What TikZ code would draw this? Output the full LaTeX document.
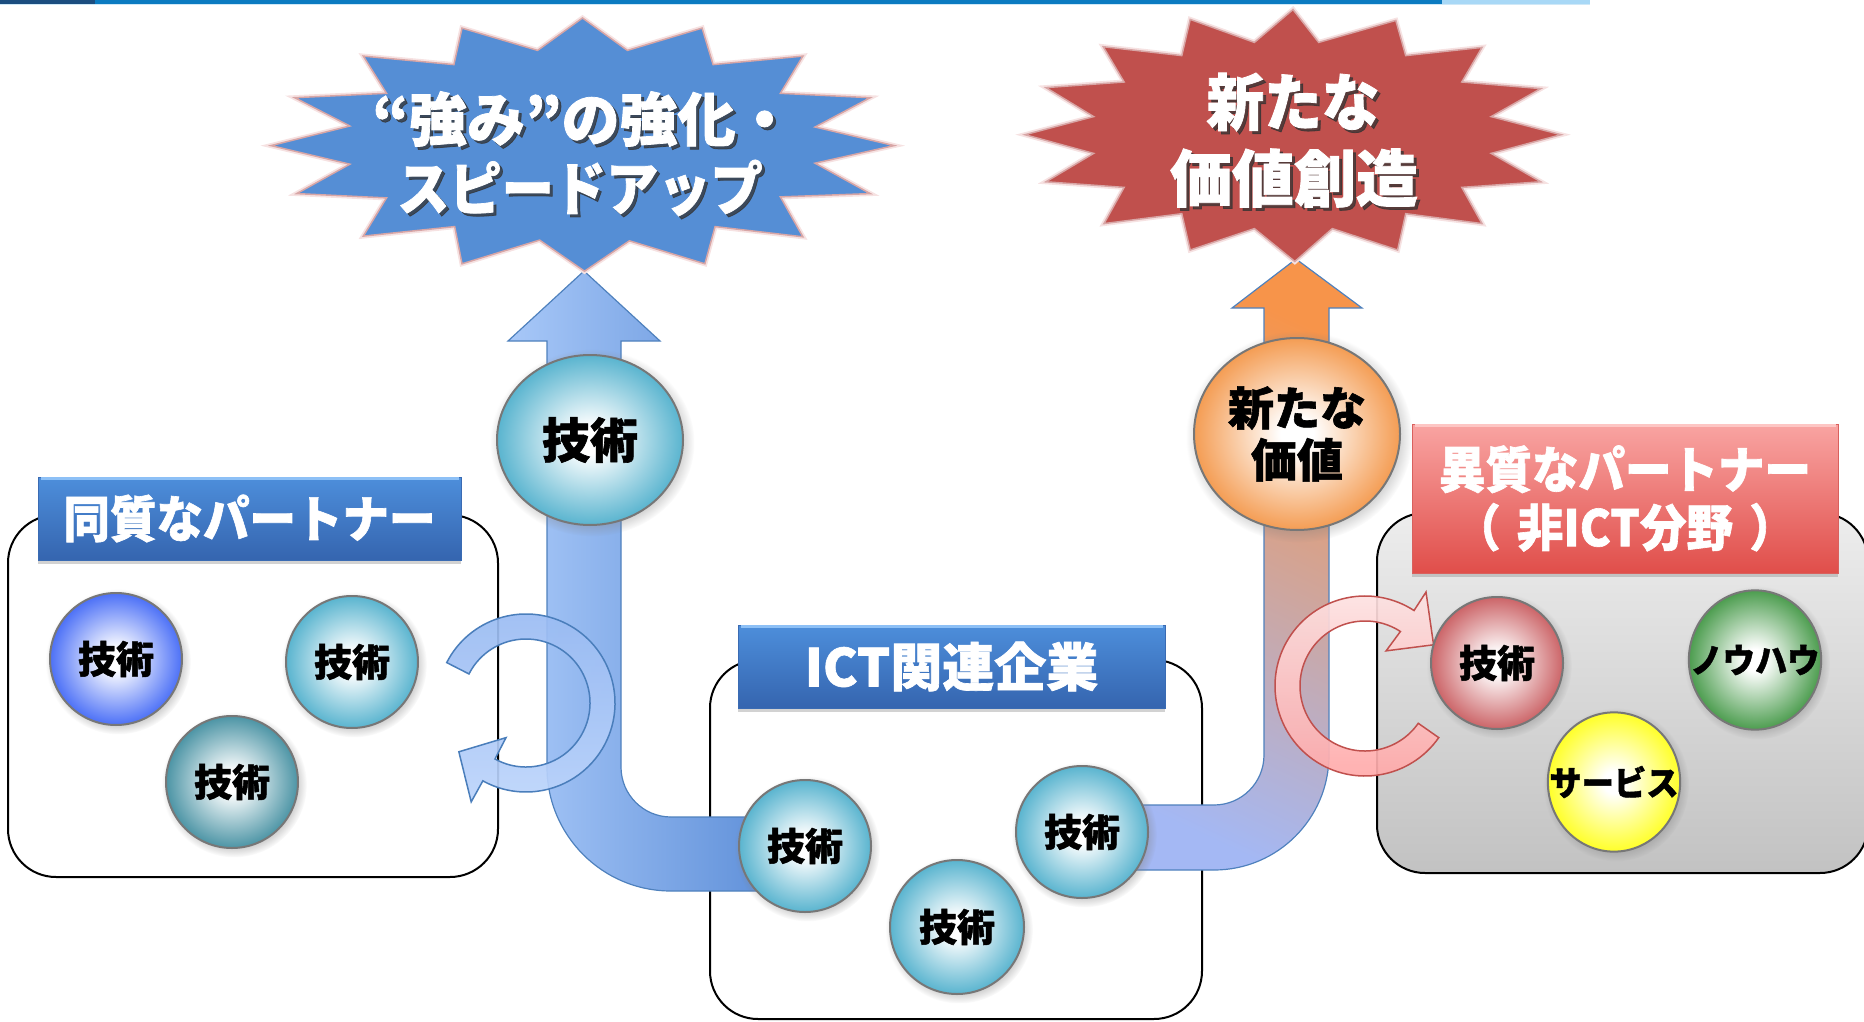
\documentclass[tikz,border=0pt]{standalone}
\usepackage{fontspec}
\newfontfamily\jp{Noto Sans CJK JP}[BoldFeatures={FakeBold=1.3}]
\usetikzlibrary{shapes.geometric,shadows}
\definecolor{barnavy}{HTML}{1C4E80}
\definecolor{barblue}{HTML}{0B7BC1}
\definecolor{barlight}{HTML}{A8D8F6}
\definecolor{barline}{HTML}{CFE8F7}
\definecolor{starblue}{HTML}{558ED5}
\definecolor{starred}{HTML}{C0504D}
\definecolor{starrim}{HTML}{D8A6A6}
\definecolor{starglow}{HTML}{F6E2E2}
\definecolor{arrline}{HTML}{4F81BD}
\definecolor{ballteal}{HTML}{3AA6C6}
\definecolor{balldteal}{HTML}{2A8094}
\definecolor{ballblue}{HTML}{2A55F5}
\definecolor{ballred}{HTML}{C2474B}
\definecolor{ballgreen}{HTML}{2A8A2D}
\definecolor{ballyellow}{HTML}{FFFF00}
\definecolor{ballorange}{HTML}{F28A33}
\definecolor{ballborder}{HTML}{777777}
\definecolor{bbtop}{HTML}{4D8EDB}
\definecolor{bbbot}{HTML}{3565AF}
\definecolor{bbline}{HTML}{3A6BB3}
\definecolor{bbhi}{HTML}{8DC0F6}
\definecolor{brtop}{HTML}{F9A4A2}
\definecolor{brbot}{HTML}{E04E4A}
\definecolor{brline}{HTML}{D9605D}
\definecolor{brhi}{HTML}{FDC6C4}
\definecolor{rbtop}{HTML}{98BAF2}
\definecolor{rbbot}{HTML}{BCD4FB}
\definecolor{rbline}{HTML}{4A7EBB}
\definecolor{rrtop}{HTML}{FDE4E4}
\definecolor{rrbot}{HTML}{FFA6A6}
\definecolor{rrline}{HTML}{C0504D}
\definecolor{graytop}{HTML}{EDEDED}
\definecolor{graybot}{HTML}{C2C2C2}
\definecolor{abl}{HTML}{A8C8F8}
\definecolor{abr}{HTML}{5A8CD7}
\definecolor{aotop}{HTML}{F7944A}
\definecolor{aomid}{HTML}{D8A0A8}
\definecolor{aobot}{HTML}{A4B8F4}
\colorlet{ballc}{cyan}
\colorlet{ballrim}{blue}
\pgfdeclareradialshading[ballc,ballrim]{ball}{\pgfpoint{0bp}{0bp}}{color(0bp)=(white); color(4bp)=(white); color(29bp)=(ballc); color(44bp)=(ballc); color(50bp)=(ballrim)}
\newcommand\jpfont[1]{\jp\bfseries\fontsize{#1}{#1}\selectfont}
\tikzset{
  ball/.style={shade, shading=ball, draw=ballborder, line width=2pt, inner sep=0pt,
    /utils/exec={\colorlet{ballc}{#1}\colorlet{ballrim}{#1!70!black}},
    circular drop shadow={shadow xshift=2pt, shadow yshift=-2.5pt, opacity=0.4}},
  roundbox/.style={draw=black, line width=2pt, rounded corners=48pt},
  banblue/.style={rectangle, inner sep=0pt, top color=bbtop, bottom color=bbbot,
    draw=bbline, line width=1pt, text=white,
    drop shadow={shadow xshift=0pt, shadow yshift=-4pt, opacity=0.35}},
  banred/.style={rectangle, inner sep=0pt, top color=brtop, bottom color=brbot,
    draw=brline, line width=1pt, text=white,
    drop shadow={shadow xshift=0pt, shadow yshift=-4pt, opacity=0.35}},
  startext/.style={text=white, inner sep=0pt},
  starshade/.style={text=black!80, opacity=0.75, inner sep=0pt},
  ringblue/.style={top color=rbtop, bottom color=rbbot, draw=rbline, line width=1.5pt, fill opacity=0.92},
  ringred/.style={top color=rrtop, bottom color=rrbot, draw=rrline, line width=1.5pt, fill opacity=0.92},
}
\begin{document}
\begin{tikzpicture}[x=1pt,y=1pt]
\useasboundingbox (0,0) rectangle (1864,-1022);
% top bar
\fill[barnavy] (0,0) rectangle (95,-4);
\fill[barblue] (95,0) rectangle (1442,-4);
\fill[barlight] (1442,0) rectangle (1590,-4);
\fill[barline] (0,-4) rectangle (1590,-5.5);

% boxes
\draw[roundbox, fill=white] (8,-515) rectangle (498,-877);
\draw[roundbox, fill=white] (710,-660) rectangle (1202,-1019);
\draw[roundbox, top color=graytop, bottom color=graybot] (1377,-513) rectangle (1868,-873);

% big blue arrow
\draw[left color=abl, right color=abr, draw=arrline, line width=1.2pt]
  (584,-271) -- (660,-341) -- (621,-341) -- (621,-767)
  arc[start angle=180, end angle=270, radius=50] -- (790,-817) -- (790,-891) -- (671,-891)
  arc[start angle=270, end angle=180, radius=124] -- (547,-341) -- (508,-341) -- cycle;

% big orange arrow
\draw[top color=aotop, middle color=aomid, bottom color=aobot, shading angle=-25, draw=arrline, line width=1.2pt]
  (1080,-805) -- (1214,-805) arc[start angle=-90, end angle=0, radius=50]
  -- (1264,-308) -- (1232,-308) -- (1296,-259) -- (1362,-308) -- (1329,-308) -- (1329,-755)
  arc[start angle=0, end angle=-90, radius=115] -- (1080,-870) -- cycle;

% circular arrows
\begin{scope}[shift={(526,-703)}]
\draw[ringblue] (153:89) arc[start angle=153, end angle=-119, radius=89]
  -- (-119:113) -- (-144:83) -- (-120:40) -- (-119:64)
  arc[start angle=-119, end angle=153, radius=64] -- cycle;
\end{scope}
\begin{scope}[shift={(1365,-686)}]
\draw[ringred] (-35:90) arc[start angle=-35, end angle=-303, radius=90]
  -- (57:112) -- (31:80) -- (59:41) -- (57:65)
  arc[start angle=57, end angle=325, radius=65] -- cycle;
\end{scope}

% stars
\def\bluestar{(582.5,-18) -- (627.4,-50.4) -- (702.1,-28.1) -- (713.1,-64.6) -- (802.9,-56.1) -- (780.4,-93.3) -- (870.2,-97.7) -- (815.1,-127) -- (894,-145.6) -- (815.1,-163.2) -- (870.2,-193.6) -- (780.4,-196.9) -- (802.9,-236.8) -- (715.1,-226.6) -- (704.9,-263.8) -- (629.4,-240.8) -- (584.5,-271.2) -- (539.6,-240.1) -- (462,-263.8) -- (454.7,-226.6) -- (363.3,-236.1) -- (386.5,-197.9) -- (296.7,-193.6) -- (349.8,-164.2) -- (271,-145.6) -- (349.8,-126) -- (294.7,-97.7) -- (386.5,-93.3) -- (363.3,-56.1) -- (453.9,-64.6) -- (462,-28.1) -- (537.6,-50.4) -- cycle}
\def\redstar{(1293,-9.5) -- (1318.7,-42.4) -- (1395.8,-20.4) -- (1405.7,-55.6) -- (1482,-47.4) -- (1461.8,-82) -- (1540.8,-88.6) -- (1491.2,-116.6) -- (1561,-134.7) -- (1491.2,-153.4) -- (1540.8,-181.8) -- (1461.8,-187.4) -- (1482,-223.6) -- (1405.7,-213.7) -- (1397.6,-250) -- (1332.3,-228.6) -- (1294.8,-261.5) -- (1254.4,-228.6) -- (1190.2,-250) -- (1181.8,-213.7) -- (1104,-223.6) -- (1124.1,-187.4) -- (1045.9,-181.8) -- (1093.6,-153.4) -- (1025,-134.7) -- (1093.6,-116.6) -- (1045.9,-87.6) -- (1124.1,-82) -- (1103.2,-46.7) -- (1181.8,-55.6) -- (1190.2,-19.4) -- (1254.4,-42.4) -- cycle}
\draw[starglow, line width=5pt] \bluestar;
\draw[fill=starblue, draw=starrim, line width=1.5pt] \bluestar;
\draw[starglow, line width=5pt] \redstar;
\draw[fill=starred, draw=starrim, line width=1.5pt] \redstar;

\node[starshade, font=\jpfont{58}] (bs1s) at (586,-122) {“強み”の強化・};
\node[startext, font=\jpfont{58}] (bs1) at (583,-119) {“強み”の強化・};
\node[starshade, font=\jpfont{58}, xscale=0.9] (bs2s) at (583,-191) {スピードアップ};
\node[startext, font=\jpfont{58}, xscale=0.9] (bs2) at (580,-188) {スピードアップ};
\node[starshade, font=\jpfont{62}, xscale=0.93] (rs1s) at (1296,-105) {新たな};
\node[startext, font=\jpfont{62}, xscale=0.93] (rs1) at (1293,-102) {新たな};
\node[starshade, font=\jpfont{62}] (rs2s) at (1297,-181) {価値創造};
\node[startext, font=\jpfont{62}] (rs2) at (1294,-178) {価値創造};

% balls
\node[ball=ballblue, circle, minimum size=132pt, font=\jpfont{38}] (l1) at (116,-659) {技術};
\node[ball=ballteal, circle, minimum size=132pt, font=\jpfont{38}] (l2) at (352,-662) {技術};
\node[ball=balldteal, circle, minimum size=132pt, font=\jpfont{38}] (l3) at (232,-782) {技術};
\node[ball=ballteal, circle, minimum size=132pt, font=\jpfont{38}] (m1) at (805,-846) {技術};
\node[ball=ballteal, circle, minimum size=134pt, font=\jpfont{38}] (m2) at (957,-927) {技術};
\node[ball=ballteal, circle, minimum size=132pt, font=\jpfont{38}] (m3) at (1082,-832) {技術};
\node[ball=ballred, circle, minimum size=132pt, font=\jpfont{38}] (r1) at (1497,-663) {技術};
\node[ball=ballgreen, circle, minimum size=130pt, font=\jpfont{34}, xscale=0.95] (r2) at (1755,-660) {ノウハウ};
\node[ball=ballyellow, circle, minimum size=128pt, font=\jpfont{34}, xscale=0.95] (r3) at (1614,-782) {サービス};
\node[ball=ballteal, ellipse, minimum width=186pt, minimum height=170pt, font=\jpfont{48}] (u1) at (590,-440) {技術};
\node[ball=ballorange, ellipse, minimum width=206pt, minimum height=192pt, font=\jpfont{46}, align=center] (u2) at (1297,-434) {新たな\\[6pt]価値};

% banners
\node[banblue, minimum width=423pt, minimum height=83pt, font=\jpfont{50}] (bl) at (249.5,-518.5) {\scalebox{0.93}[1]{同質なパートナー}};
\draw[bbhi, line width=2.5pt] ([xshift=3pt,yshift=-2pt]bl.north west) -- ([xshift=-3pt,yshift=-2pt]bl.north east);
\node[banblue, minimum width=427pt, minimum height=83pt, font=\jpfont{52}] (bm) at (951.5,-666.5) {ICT関連企業};
\draw[bbhi, line width=2.5pt] ([xshift=3pt,yshift=-2pt]bm.north west) -- ([xshift=-3pt,yshift=-2pt]bm.north east);
\node[banred, minimum width=426pt, minimum height=149pt, font=\jpfont{50}, align=center] (br) at (1625,-498.5) {\scalebox{0.93}[1]{異質なパートナー}\\[8pt]\scalebox{0.93}[1]{（\hspace{0.35em}非ICT分野\hspace{0.35em}）}};
\draw[brhi, line width=2.5pt] ([xshift=3pt,yshift=-2pt]br.north west) -- ([xshift=-3pt,yshift=-2pt]br.north east);
\end{tikzpicture}
\end{document}
